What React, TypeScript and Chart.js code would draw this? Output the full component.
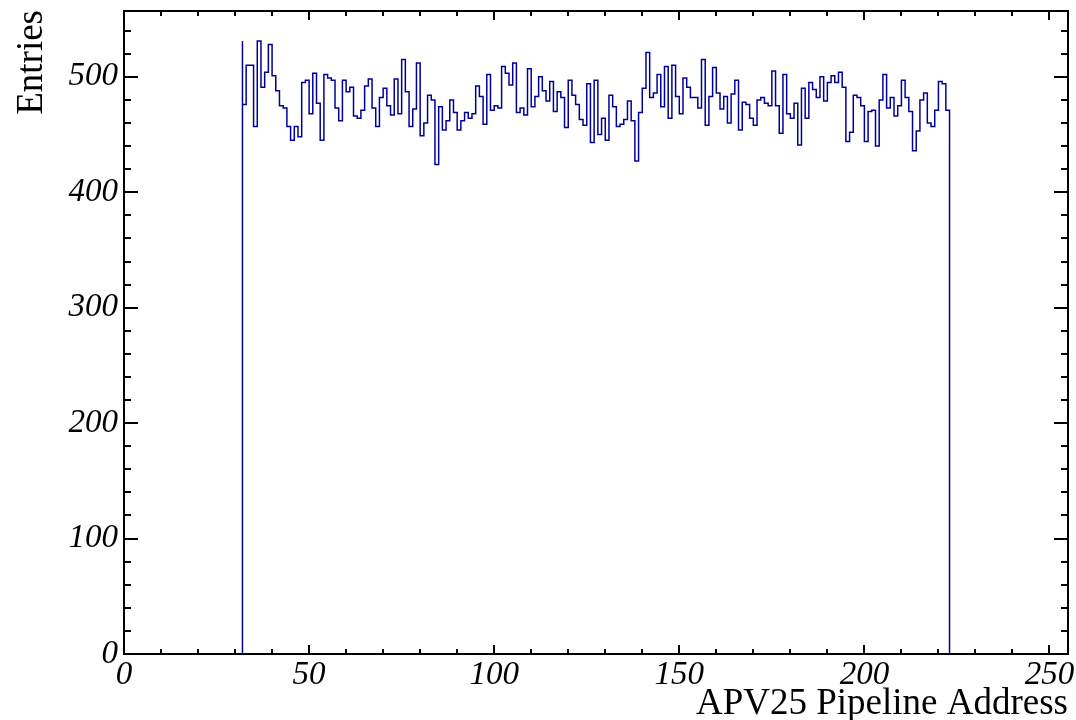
import React, { useEffect, useRef } from "react";
import { Chart, registerables } from "chart.js";

Chart.register(...registerables);

// ---- data ----
const BIN_LOW = 32;
const BIN_WIDTH = 1;
const counts = [
  531, 476, 510, 510, 457, 531, 491, 504, 528, 501, 488, 475, 473, 457, 445, 457,
  448, 495, 497, 468, 503, 477, 445, 502, 499, 497, 473, 462, 497, 487, 491, 466,
  464, 471, 492, 498, 473, 457, 482, 490, 475, 467, 498, 468, 515, 487, 457, 472,
  512, 449, 460, 484, 480, 424, 474, 454, 462, 480, 469, 454, 462, 469, 464, 468,
  492, 483, 459, 502, 471, 475, 473, 509, 503, 493, 512, 469, 473, 467, 507, 474,
  483, 500, 488, 479, 496, 470, 487, 482, 456, 497, 484, 476, 463, 458, 494, 443,
  497, 450, 464, 445, 484, 474, 457, 459, 463, 479, 462, 427, 469, 490, 521, 482,
  486, 502, 474, 509, 464, 510, 483, 468, 499, 491, 482, 482, 473, 515, 458, 483,
  508, 486, 472, 483, 460, 485, 497, 454, 478, 476, 464, 458, 480, 482, 477, 475,
  505, 475, 451, 502, 468, 464, 477, 441, 490, 464, 495, 489, 482, 500, 479, 495,
  501, 495, 504, 491, 444, 452, 484, 482, 475, 444, 470, 471, 440, 480, 502, 473,
  482, 466, 475, 497, 482, 470, 436, 453, 480, 486, 460, 457, 471, 496, 494, 471,
];
const X_MIN = 0;
const X_MAX = 255;
const Y_MIN = 0;
const Y_MAX = 557;
const xTickValues = [0, 50, 100, 150, 200, 250];
const yTickValues = [0, 100, 200, 300, 400, 500];
const X_MINOR_STEP = 10;
const Y_MINOR_STEP = 20;
const xTitle = "APV25 Pipeline Address";
const yTitle = "Entries";

const LINE_COLOR = "#000099";
const SERIF = "'Liberation Serif', 'DejaVu Serif', serif";

const framePlugin = {
  id: "rootFrame",
  afterDraw(chart: any) {
    const { ctx, chartArea, scales } = chart;
    const { left, right, top, bottom } = chartArea;
    const xs = scales.x;
    const ys = scales.y;
    ctx.save();
    ctx.strokeStyle = "#000";
    ctx.lineWidth = 2;
    ctx.lineCap = "butt";
    ctx.strokeRect(left, top, right - left, bottom - top);
    ctx.beginPath();
    for (let v = X_MIN; v <= X_MAX + 1e-9; v += X_MINOR_STEP) {
      const px = Math.round(xs.getPixelForValue(v));
      const major = v % 50 === 0;
      const len = major ? 9 : 5;
      ctx.moveTo(px, bottom);
      ctx.lineTo(px, bottom - len);
      ctx.moveTo(px, top);
      ctx.lineTo(px, top + len);
    }
    for (let v = Y_MIN; v <= Y_MAX + 1e-9; v += Y_MINOR_STEP) {
      const py = Math.round(ys.getPixelForValue(v));
      const major = v % 100 === 0;
      const len = major ? 14 : 7;
      ctx.moveTo(left, py);
      ctx.lineTo(left + len, py);
      ctx.moveTo(right, py);
      ctx.lineTo(right - len, py);
    }
    ctx.stroke();

    ctx.fillStyle = "#000";
    ctx.font = `37px ${SERIF}`;
    ctx.textAlign = "right";
    ctx.textBaseline = "alphabetic";
    ctx.fillText(xTitle, right, 714);
    ctx.translate(42, top - 1);
    ctx.rotate(-Math.PI / 2);
    ctx.textAlign = "right";
    ctx.fillText(yTitle, 0, 0);
    ctx.restore();
  },
};

export default function App() {
  const ref = useRef<HTMLCanvasElement | null>(null);

  useEffect(() => {
    if (!ref.current) return;
    const pts: { x: number; y: number }[] = [];
    pts.push({ x: X_MIN, y: 0 });
    pts.push({ x: BIN_LOW, y: 0 });
    counts.forEach((c, i) => pts.push({ x: BIN_LOW + i * BIN_WIDTH, y: c }));
    pts.push({ x: BIN_LOW + counts.length * BIN_WIDTH, y: 0 });
    pts.push({ x: X_MAX, y: 0 });

    const tickFont = { family: SERIF, style: "italic" as const, size: 33 };

    const chart = new Chart(ref.current, {
      type: "line",
      data: {
        datasets: [
          {
            data: pts,
            stepped: "after",
            borderColor: LINE_COLOR,
            borderWidth: 1.5,
            pointRadius: 0,
            fill: false,
            tension: 0,
          },
        ],
      },
      plugins: [framePlugin],
      options: {
        animation: false,
        responsive: false,
        devicePixelRatio: 1,
        layout: { padding: { top: 11, right: 8, left: 0, bottom: 0 } },
        plugins: { legend: { display: false }, tooltip: { enabled: false }, title: { display: false } },
        scales: {
          x: {
            type: "linear",
            min: X_MIN,
            max: X_MAX,
            border: { display: false },
            grid: { display: false, drawTicks: false },
            ticks: { font: tickFont, color: "#000", padding: 2, maxRotation: 0, autoSkip: false },
            afterBuildTicks: (s: any) => {
              s.ticks = xTickValues.map((v) => ({ value: v }));
            },
            afterFit: (s: any) => {
              s.height = 66;
              s.paddingLeft = 0;
              s.paddingRight = 0;
            },
          },
          y: {
            type: "linear",
            min: Y_MIN,
            max: Y_MAX,
            border: { display: false },
            grid: { display: false, drawTicks: false },
            ticks: { font: tickFont, color: "#000", padding: 6, autoSkip: false },
            afterBuildTicks: (s: any) => {
              s.ticks = yTickValues.map((v) => ({ value: v }));
            },
            afterFit: (s: any) => {
              s.width = 124;
              s.paddingTop = 0;
              s.paddingBottom = 0;
            },
          },
        },
      },
    } as any);
    return () => chart.destroy();
  }, []);

  return (
    <div style={{ position: "fixed", left: 0, top: 0, width: 1076, height: 720, background: "#fff" }}>
      <canvas ref={ref} width={1076} height={720} style={{ display: "block" }} />
    </div>
  );
}
